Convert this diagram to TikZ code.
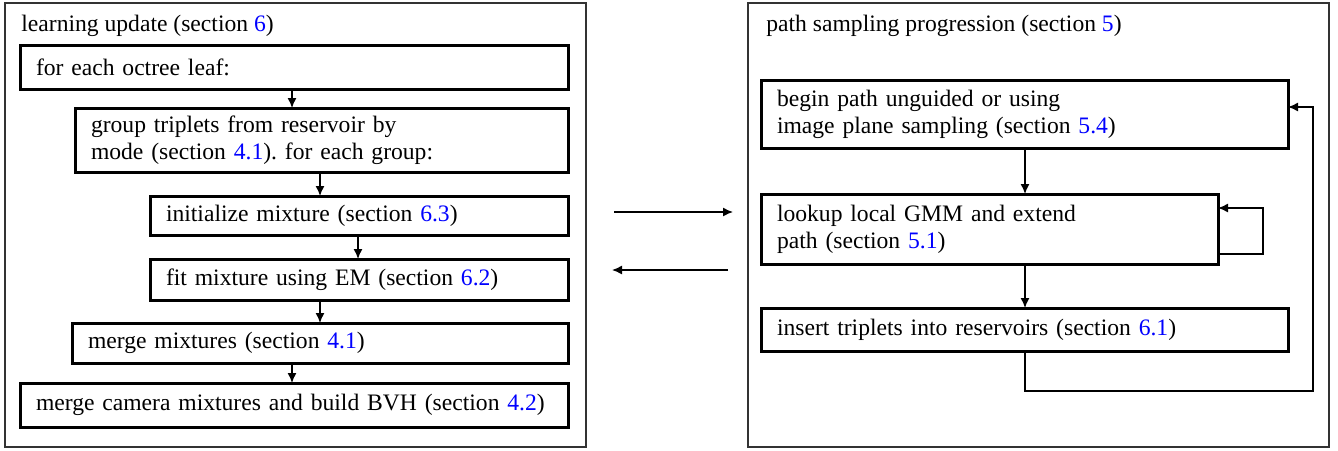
\documentclass[tikz,border=0pt]{standalone}
\usepackage{fontspec}
\setmainfont{Liberation Serif}
\usetikzlibrary{arrows.meta,calc}
\definecolor{refblue}{RGB}{0,0,255}
\newcommand\sref[1]{\textcolor{refblue}{#1}}
\frenchspacing
\begin{document}
\begin{tikzpicture}[x=0.5pt,y=-0.5pt,
  font=\fontsize{11.8}{13.5}\selectfont,
  frame/.style={draw=black!80, line width=0.6pt},
  stepbox/.style={draw, line width=1.5pt, anchor=north west, outer sep=0pt,
    inner xsep=8pt, inner ysep=0pt, align=left},
  arr/.style={line width=0.7pt, -{Latex[length=5pt,width=4.5pt]}},
  ln/.style={line width=0.7pt}]
\useasboundingbox (0,0) rectangle (1338,450);
% frames
\draw[frame] (5,3) rectangle (586,447);
\draw[frame] (748,3) rectangle (1329,447);
\node[anchor=base west, inner sep=0pt] (t1) at (21,31) {learning update (section \sref{6})};
\node[anchor=base west, inner sep=0pt] (t2) at (766,31) {path sampling progression (section \sref{5})};
% left boxes
\node[stepbox, minimum width=274pt, minimum height=22pt, text width=258pt] (b1) at (20,45) {for each octree leaf:};
\node[stepbox, minimum width=246.5pt, minimum height=32pt, text width=230.5pt] (b2) at (75,108) {group triplets from reservoir by\\mode (section \sref{4.1}). for each group:};
\node[stepbox, minimum width=209pt, minimum height=19.5pt, text width=193pt] (b3) at (150,196) {initialize mixture (section \sref{6.3})};
\node[stepbox, minimum width=209pt, minimum height=20.5pt, text width=193pt] (b4) at (150,259) {fit mixture using EM (section \sref{6.2})};
\node[stepbox, minimum width=248pt, minimum height=20pt, text width=232pt] (b5) at (72,323) {merge mixtures (section \sref{4.1})};
\node[stepbox, minimum width=274pt, minimum height=22pt, text width=258pt] (b6) at (20,383) {merge camera mixtures and build BVH (section \sref{4.2})};
\coordinate (x1) at (292,0);
\coordinate (x2) at (320,0);
\coordinate (x3) at (358,0);
\draw[arr] (b1.south -| x1) -- (b2.north -| x1);
\draw[arr] (b2.south -| x2) -- (b3.north -| x2);
\draw[arr] (b3.south -| x3) -- (b4.north -| x3);
\draw[arr] (b4.south -| x2) -- (b5.north -| x2);
\draw[arr] (b5.south -| x1) -- (b6.north -| x1);
% middle arrows
\coordinate (m1) at (614,212);
\coordinate (m2) at (733,212);
\coordinate (m3) at (728,270);
\coordinate (m4) at (612,270);
\draw[arr] (m1) -- (m2);
\draw[arr] (m3) -- (m4);
% right boxes
\node[stepbox, minimum width=263.5pt, minimum height=34pt, text width=247.5pt] (A) at (761,80) {begin path unguided or using\\image plane sampling (section \sref{5.4})};
\node[stepbox, minimum width=228.5pt, minimum height=35pt, text width=212.5pt] (B) at (761,194) {lookup local GMM and extend\\path (section \sref{5.1})};
\node[stepbox, minimum width=263.5pt, minimum height=21.5pt, text width=247.5pt] (C) at (761,308) {insert triplets into reservoirs (section \sref{6.1})};
\coordinate (xr) at (1025,0);
\draw[arr] (A.south -| xr) -- (B.north -| xr);
\draw[arr] (B.south -| xr) -- (C.north -| xr);
% self loop
\coordinate (s1) at (1263,254);
\coordinate (s2) at (1263,208);
\draw[arr] (B.east |- s1) -- (s1) -- (s2) -- (B.east |- s2);
% big loop
\coordinate (l1) at (1025,391);
\coordinate (l2) at (1313,391);
\coordinate (l3) at (1313,107);
\draw[arr] (C.south -| xr) -- (l1) -- (l2) -- (l3) -- (A.east |- l3);
\end{tikzpicture}
\end{document}
